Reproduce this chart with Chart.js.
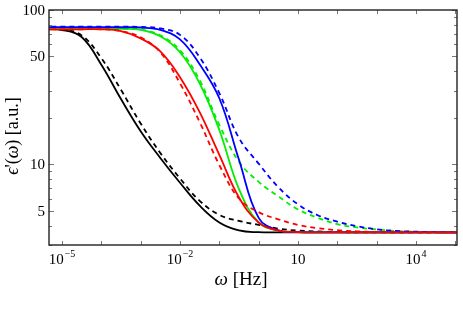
<!DOCTYPE html>
<html lang="en">
<head>
<meta charset="UTF-8">
<title>Dielectric constant vs frequency</title>
<script src="https://cdn.jsdelivr.net/npm/chart.js"></script>
<style>
  body { margin: 0; background: #fff; }
</style>
</head>
<body>
<canvas id="epsChart" width="463" height="311"></canvas>
<script>
// frequency grid (Hz), half-decade steps
const omega = [3.16e-6, 1e-5, 3.16e-5, 1e-4, 3.16e-4, 1e-3, 3.16e-3, 1e-2, 3.16e-2, 0.1, 0.316, 1,
               3.16, 10, 31.6, 100, 316, 1000, 3160, 1e4, 3.16e4, 1e5, 3.16e5];

// eps'(omega)
const blackSolid  = [75, 74.2, 66.8, 44.2, 26.5, 16.4, 11.0, 7.6, 5.4, 4.2, 3.73, 3.63, 3.62, 3.62, 3.62, 3.62, 3.62, 3.62, 3.62, 3.62, 3.62, 3.62, 3.62];
const blackDashed = [75, 74.8, 68.5, 48.8, 30.4, 18.4, 11.85, 8.1, 5.8, 4.7, 4.3, 4.05, 3.83, 3.72, 3.67, 3.64, 3.62, 3.62, 3.62, 3.62, 3.62, 3.62, 3.62];
const redSolid    = [75, 75, 75, 75, 73, 65.5, 54, 36.7, 21.8, 11.5, 6.1, 4.2, 3.72, 3.64, 3.62, 3.62, 3.62, 3.62, 3.62, 3.62, 3.62, 3.62, 3.62];
const redDashed   = [75, 75, 75, 75, 73, 66.5, 53.2, 33.5, 18.8, 9.9, 6.0, 4.9, 4.4, 4.05, 3.86, 3.74, 3.68, 3.64, 3.62, 3.62, 3.62, 3.62, 3.62];
const greenSolid  = [75.6, 75.6, 75.6, 75.6, 75.4, 74.3, 67.5, 53.2, 33.5, 16.7, 6.9, 4.2, 3.72, 3.64, 3.62, 3.62, 3.62, 3.62, 3.62, 3.62, 3.62, 3.62, 3.62];
const greenDashed = [75.8, 75.8, 75.8, 75.8, 75.6, 74.8, 68.5, 54.8, 35.1, 18, 10.4, 7.7, 6.2, 5.1, 4.5, 4.1, 3.9, 3.78, 3.7, 3.65, 3.63, 3.62, 3.62];
const blueSolid   = [77.4, 77.4, 77.4, 77.4, 77.3, 77, 74.3, 64.5, 44.5, 26.8, 10.7, 4.5, 3.73, 3.64, 3.62, 3.62, 3.62, 3.62, 3.62, 3.62, 3.62, 3.62, 3.62];
const blueDashed  = [78, 78, 78, 78, 77.9, 77.7, 76, 69, 49.4, 28.9, 14.8, 10.1, 7.1, 5.5, 4.68, 4.25, 3.97, 3.79, 3.7, 3.66, 3.63, 3.62, 3.62];

// ticks
const xTicks = [1e-5, 1e-4, 1e-3, 1e-2, 1e-1, 1, 10, 100, 1e3, 1e4, 1e5];
const xLabelExps = [-5, -2, 1, 4];
const yTicks = [3, 4, 5, 6, 7, 8, 9, 10, 20, 30, 40, 50, 60, 70, 80, 90, 100];
const yLabels = [5, 10, 50, 100];

const serif = '"Liberation Serif", "DejaVu Serif", serif';

function series(vals, color, dashed) {
  return {
    data: omega.map((w, i) => ({ x: w, y: vals[i] })),
    borderColor: color,
    borderWidth: 1.8,
    borderDash: dashed ? [5, 4] : [],
    pointRadius: 0,
    fill: false,
    tension: 0.4
  };
}

const frame = {
  id: 'frame',
  afterDraw(chart) {
    const { ctx, chartArea: a, scales: { x, y } } = chart;
    ctx.save();
    ctx.strokeStyle = '#777';
    ctx.lineWidth = 1;
    yTicks.forEach(v => {
      const py = Math.round(y.getPixelForValue(v)) + 0.5;
      const len = yLabels.includes(v) ? 5 : 3;
      ctx.beginPath();
      ctx.moveTo(a.left, py); ctx.lineTo(a.left + len, py);
      ctx.moveTo(a.right, py); ctx.lineTo(a.right - len, py);
      ctx.stroke();
    });
    xTicks.forEach(v => {
      const px = Math.round(x.getPixelForValue(v)) + 0.5;
      const len = 4;
      ctx.beginPath();
      ctx.moveTo(px, a.bottom); ctx.lineTo(px, a.bottom - len);
      ctx.moveTo(px, a.top); ctx.lineTo(px, a.top + len);
      ctx.stroke();
    });

    ctx.strokeStyle = '#222';
    ctx.lineWidth = 1.4;
    ctx.strokeRect(a.left, a.top, a.right - a.left, a.bottom - a.top);

    // y tick labels
    ctx.fillStyle = '#000';
    ctx.font = '15px ' + serif;
    ctx.textAlign = 'right';
    ctx.textBaseline = 'middle';
    yLabels.forEach(v => ctx.fillText(String(v), a.left - 4, y.getPixelForValue(v) + 1));

    // x tick labels with superscript exponent
    ctx.textAlign = 'left';
    ctx.textBaseline = 'alphabetic';
    xLabelExps.forEach(e => {
      const px = x.getPixelForValue(Math.pow(10, e));
      const sup = e === 1 ? '' : (e < 0 ? '\u2212' + (-e) : String(e));
      ctx.font = '15px ' + serif;
      const wb = ctx.measureText('10').width;
      ctx.font = '10px ' + serif;
      const ws = sup ? ctx.measureText(sup).width + 1 : 0;
      const x0 = px - (wb + ws) / 2;
      ctx.font = '15px ' + serif;
      ctx.fillText('10', x0, 264);
      if (sup) {
        ctx.font = '10px ' + serif;
        ctx.fillText(sup, x0 + wb + 1, 257);
      }
    });

    // x title
    ctx.font = 'italic 19px ' + serif;
    const wOm = ctx.measureText('\u03c9').width;
    ctx.font = '19px ' + serif;
    const wRest = ctx.measureText(' [Hz]').width;
    let tx = 241 - (wOm + wRest) / 2;
    ctx.font = 'italic 19px ' + serif;
    ctx.fillText('\u03c9', tx, 285);
    ctx.font = '19px ' + serif;
    ctx.fillText(' [Hz]', tx + wOm, 285);

    // y title, rotated
    const parts = [['\u03f5', true], ["'(", false], ['\u03c9', true], [') [a.u.]', false]];
    ctx.translate(18, 136);
    ctx.rotate(-Math.PI / 2);
    let total = 0;
    parts.forEach(([t, it]) => { ctx.font = (it ? 'italic ' : '') + '18px ' + serif; total += ctx.measureText(t).width; });
    let cx = -total / 2;
    parts.forEach(([t, it]) => {
      ctx.font = (it ? 'italic ' : '') + '18px ' + serif;
      ctx.fillText(t, cx, 0);
      cx += ctx.measureText(t).width;
    });
    ctx.restore();
  }
};

new Chart(document.getElementById('epsChart'), {
  type: 'line',
  data: {
    datasets: [
      series(redDashed, '#ff0000', true),
      series(redSolid, '#ff0000', false),
      series(blueDashed, '#0000ff', true),
      series(blueSolid, '#0000ff', false),
      series(greenDashed, '#00ee00', true),
      series(greenSolid, '#00ee00', false),
      series(blackDashed, '#000000', true),
      series(blackSolid, '#000000', false)
    ]
  },
  options: {
    responsive: false,
    animation: false,
    devicePixelRatio: 1,
    layout: { padding: { left: 0, right: 6, top: 10, bottom: 0 } },
    plugins: { legend: { display: false }, tooltip: { enabled: false } },
    scales: {
      x: {
        type: 'logarithmic',
        min: 4.68e-6,
        max: 1.1e5,
        grid: { display: false },
        border: { display: false },
        ticks: { display: false },
        afterFit: s => { s.height = 66; }
      },
      y: {
        type: 'logarithmic',
        min: 3,
        max: 100,
        grid: { display: false },
        border: { display: false },
        ticks: { display: false },
        afterFit: s => { s.width = 49; }
      }
    }
  },
  plugins: [frame]
});
</script>
</body>
</html>
